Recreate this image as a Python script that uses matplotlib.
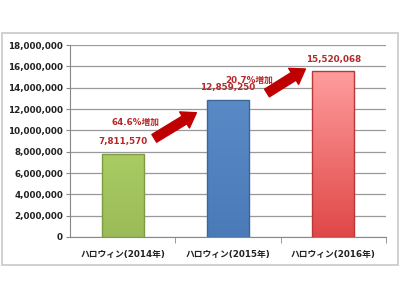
import numpy as np
import matplotlib
matplotlib.use("Agg")
import matplotlib.pyplot as plt
from matplotlib.colors import LinearSegmentedColormap
from matplotlib.patches import Rectangle

plt.rcParams['font.family'] = ['DejaVu Sans', 'Noto Sans CJK JP']

categories = ['ハロウィン(2014年)', 'ハロウィン(2015年)', 'ハロウィン(2016年)']
values = [7811570, 12859250, 15520068]
growth = ['64.6%増加', '20.7%増加']
top_colors = ['#A9CC62', '#5A8AC6', '#FF9C9C']
bottom_colors = ['#9BBB59', '#4A7BB8', '#E04848']
edge_colors = ['#7E9A45', '#3C6699', '#B83838']
label_red = '#B8282B'
arrow_red = '#C00000'

fig = plt.figure(figsize=(4, 3), dpi=100)
fig.patches.append(Rectangle((2 / 400, 1 - 265 / 300), 396 / 400, 232 / 300,
                             transform=fig.transFigure, fill=False,
                             edgecolor='#C8C8C8', linewidth=1.2))
ax = fig.add_axes([70 / 400, 1 - 237 / 300, 316 / 400, 192 / 300])

x = np.arange(len(values))
bars = ax.bar(x, values, width=0.4, color='none', edgecolor='none', zorder=3)
for b, c1, c2, ec in zip(bars, top_colors, bottom_colors, edge_colors):
    cmap = LinearSegmentedColormap.from_list('g', [c2, c1])
    grad = np.linspace(0, 1, 100).reshape(-1, 1)
    im = ax.imshow(grad, cmap=cmap, aspect='auto', origin='lower',
                   extent=(b.get_x(), b.get_x() + b.get_width(), 0, b.get_height()),
                   zorder=3)
    im.set_clip_path(b)
    ax.add_patch(Rectangle((b.get_x(), 0), b.get_width(), b.get_height(),
                           fill=False, edgecolor=ec, linewidth=1.0, zorder=4))

for xi, v in zip(x, values):
    ax.text(xi, v + 700000, f'{v:,}', ha='center', va='bottom', fontsize=6.3,
            fontweight='bold', color=label_red, zorder=5)

# growth arrows and labels
style = 'simple,head_width=1.35,head_length=1.0,tail_width=0.65'
ax.annotate('', xy=(0.70, 11.65e6), xytext=(0.30, 9.25e6),
            arrowprops=dict(arrowstyle=style, color=arrow_red, shrinkA=0, shrinkB=0),
            zorder=5)
ax.annotate('', xy=(1.735, 15.75e6), xytext=(1.37, 13.5e6),
            arrowprops=dict(arrowstyle=style, color=arrow_red, shrinkA=0, shrinkB=0),
            zorder=5)
ax.text(0.12, 10.75e6, growth[0], ha='center', va='center', fontsize=6.3,
        fontweight='bold', color=label_red, zorder=5)
ax.text(1.20, 14.7e6, growth[1], ha='center', va='center', fontsize=6.3,
        fontweight='bold', color=label_red, zorder=5)

ax.set_ylim(0, 18e6)
ax.set_xlim(-0.5, 2.5)
ax.set_yticks(np.arange(0, 18e6 + 1, 2e6))
ax.set_yticklabels([f'{int(t):,}' for t in np.arange(0, 18e6 + 1, 2e6)],
                   fontsize=6.3, fontweight='bold', color='#222222')
ax.set_xticks(x)
ax.set_xticklabels(categories, fontsize=6.3, fontweight='bold', color='#222222')
ax.set_xticks([0.5, 1.5, 2.5], minor=True)
ax.tick_params(axis='x', which='major', length=0, pad=9)
ax.tick_params(axis='x', which='minor', length=4, color='#888888', direction='out')
ax.tick_params(axis='y', length=3, color='#888888', pad=2)
ax.grid(axis='y', color='#999999', linewidth=0.9, zorder=0)
ax.set_axisbelow(True)
for s in ['top', 'right']:
    ax.spines[s].set_visible(False)
for s in ['left', 'bottom']:
    ax.spines[s].set_color('#888888')

fig.savefig('out.png', dpi=100)
